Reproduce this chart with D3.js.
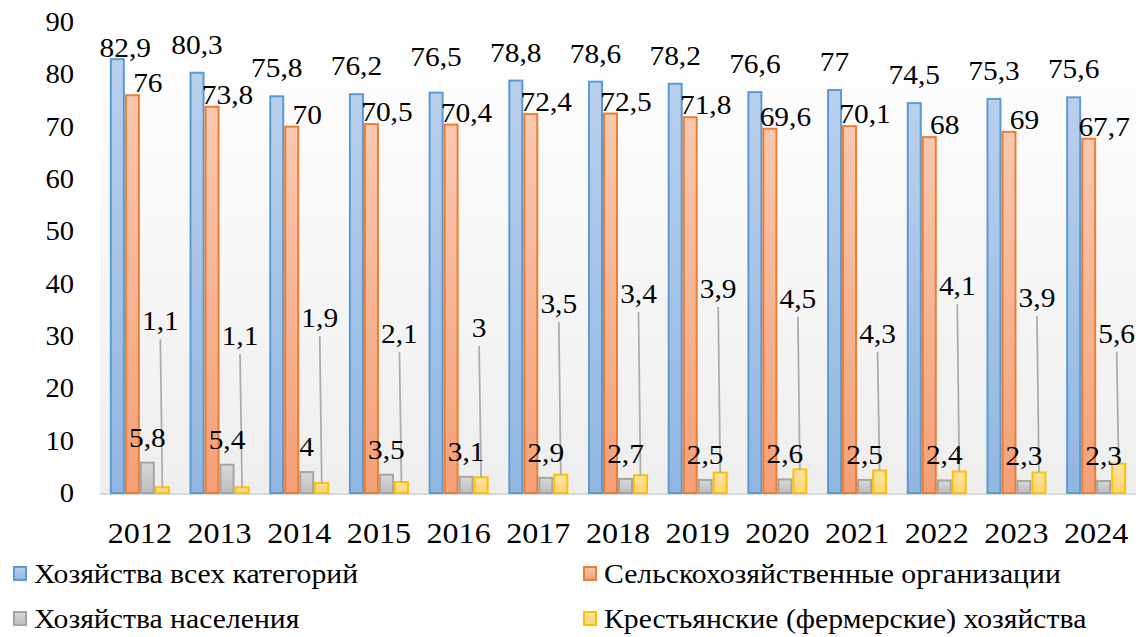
<!DOCTYPE html>
<html>
<head>
<meta charset="utf-8">
<script src="https://cdn.jsdelivr.net/npm/d3@7"></script>
<style>
  html, body { margin: 0; padding: 0; background: #fff; }
  #chart { width: 1142px; height: 637px; }
</style>
</head>
<body>
<div id="chart"></div>
<script>
// years on the x axis
const years = ["2012","2013","2014","2015","2016","2017","2018","2019","2020","2021","2022","2023","2024"];

// series values
const allFarms     = [82.9, 80.3, 75.8, 76.2, 76.5, 78.8, 78.6, 78.2, 76.6, 77, 74.5, 75.3, 75.6];
const agriOrgs     = [76, 73.8, 70, 70.5, 70.4, 72.4, 72.5, 71.8, 69.6, 70.1, 68, 69, 67.7];
const households   = [5.8, 5.4, 4, 3.5, 3.1, 2.9, 2.7, 2.5, 2.6, 2.5, 2.4, 2.3, 2.3];
const peasantFarms = [1.1, 1.1, 1.9, 2.1, 3, 3.5, 3.4, 3.9, 4.5, 4.3, 4.1, 3.9, 5.6];

// where the yellow series labels sit (value units, they were dragged up with leader lines)
const peasantLabelAt = [31.1, 28.3, 31.7, 28.7, 29.8, 34.4, 36.3, 37.3, 35.4, 28.7, 37.8, 35.5, 28.7];

const yTicks = [0, 10, 20, 30, 40, 50, 60, 70, 80, 90];

const seriesNames = [
  "Хозяйства всех категорий",
  "Сельскохозяйственные организации",
  "Хозяйства населения",
  "Крестьянские (фермерские) хозяйства"
];

(() => {
  const W = 1142, H = 637;
  const FONT = '"Liberation Serif", "Times New Roman", serif';
  const plot = { left: 100, right: 1136, top: 22, bottom: 493 };
  const fmt = v => String(v).replace(".", ",");

  // the source picture is a bit stretched sideways, so widen glyphs to match
  const stretch = (sel, k) => sel.each(function () {
    const w = this.getComputedTextLength();
    if (w > 0) d3.select(this).attr("textLength", w * k).attr("lengthAdjust", "spacingAndGlyphs");
  });

  const series = [
    { key: "a", name: seriesNames[0], values: allFarms,     stroke: "#5b9bd5", top: "#b9d0ec", bot: "#92b6e1" },
    { key: "b", name: seriesNames[1], values: agriOrgs,     stroke: "#ed7d31", top: "#f8c8b0", bot: "#f4a077" },
    { key: "c", name: seriesNames[2], values: households,   stroke: "#a5a5a5", top: "#d9d9d9", bot: "#bdbdbd" },
    { key: "d", name: seriesNames[3], values: peasantFarms, stroke: "#ffc000", top: "#ffe3a3", bot: "#ffd677" }
  ];

  const svg = d3.select("#chart").append("svg")
    .attr("width", W).attr("height", H)
    .attr("viewBox", `0 0 ${W} ${H}`)
    .style("font-family", FONT);

  const defs = svg.append("defs");
  series.forEach(s => {
    const g = defs.append("linearGradient").attr("id", "grad-" + s.key)
      .attr("x1", 0).attr("y1", 0).attr("x2", 0).attr("y2", 1);
    g.append("stop").attr("offset", "0%").attr("stop-color", s.top);
    g.append("stop").attr("offset", "100%").attr("stop-color", s.bot);
  });
  const bg = defs.append("linearGradient").attr("id", "plot-bg")
    .attr("x1", 0).attr("y1", 0).attr("x2", 0).attr("y2", 1);
  bg.append("stop").attr("offset", "0%").attr("stop-color", "#ffffff");
  bg.append("stop").attr("offset", "100%").attr("stop-color", "#eeeeee");

  // plot area background
  svg.append("rect")
    .attr("x", plot.left).attr("y", plot.top)
    .attr("width", plot.right - plot.left).attr("height", plot.bottom - plot.top)
    .attr("fill", "url(#plot-bg)");

  const x0 = d3.scaleBand().domain(years).range([plot.left, plot.right]).paddingInner(0).paddingOuter(0);
  const groupW = 60;
  const x1 = d3.scaleBand().domain(series.map(s => s.key)).range([0, groupW]);
  const y = d3.scaleLinear().domain([0, 90]).range([plot.bottom, plot.top]);
  const gx = yr => x0(yr) + (x0.bandwidth() - groupW) / 2;
  const cx = yr => x0(yr) + x0.bandwidth() / 2;

  // y axis labels only
  const yAxis = svg.append("g")
    .attr("transform", "translate(74,0)")
    .call(d3.axisLeft(y).tickValues(yTicks).tickSize(0).tickPadding(0));
  yAxis.attr("font-family", null).attr("font-size", null);
  yAxis.select(".domain").remove();
  yAxis.selectAll("text")
    .style("font-family", FONT)
    .style("font-size", "27px").attr("fill", "#000");
  stretch(yAxis.selectAll("text"), 1.06);

  // baseline
  svg.append("line")
    .attr("x1", plot.left).attr("x2", plot.right)
    .attr("y1", plot.bottom + 1).attr("y2", plot.bottom + 1)
    .attr("stroke", "#d9d9d9").attr("stroke-width", 2);

  // x axis labels
  const xAxis = svg.append("g")
    .attr("transform", `translate(0,${plot.bottom})`)
    .call(d3.axisBottom(x0).tickSize(0).tickPadding(0));
  xAxis.attr("font-family", null).attr("font-size", null);
  xAxis.select(".domain").remove();
  xAxis.selectAll("text")
    .attr("dy", null).attr("y", 50)
    .style("font-family", FONT)
    .style("font-size", "30px").attr("fill", "#000");
  stretch(xAxis.selectAll("text"), 1.07);

  // bars
  const bw = x1.bandwidth();
  series.forEach(s => {
    svg.append("g").selectAll("rect")
      .data(years.map((yr, i) => ({ yr, v: s.values[i] })))
      .join("rect")
      .attr("x", d => gx(d.yr) + x1(s.key) + 1)
      .attr("width", bw - 2)
      .attr("y", d => y(d.v))
      .attr("height", d => y(0) - y(d.v))
      .attr("fill", `url(#grad-${s.key})`)
      .attr("stroke", s.stroke)
      .attr("stroke-width", 2);
  });

  const leaders = svg.append("g");
  const lab = svg.append("g");
  const addLabel = (x, yy, t) => lab.append("text")
    .attr("x", x).attr("y", yy)
    .attr("text-anchor", "middle")
    .style("font-family", FONT)
    .style("font-size", "28px")
    .attr("fill", "#000")
    .text(t);

  // blue labels: centered on the bar, a few moved by hand in the original
  const blueDx = { "2012": 8 };
  const blueDy = { "2012": -2, "2016": -27 };
  years.forEach((yr, i) => {
    const v = allFarms[i];
    addLabel(gx(yr) + x1("a") + bw / 2 + (blueDx[yr] || 0),
      y(v) + (blueDy[yr] != null ? blueDy[yr] : -19), fmt(v));
  });

  // orange labels
  years.forEach((yr, i) => {
    const v = agriOrgs[i];
    addLabel(cx(yr) + 8, y(v) - 3, fmt(v));
  });

  // gray labels
  years.forEach((yr, i) => {
    const v = households[i];
    addLabel(gx(yr) + x1("c") + bw / 2, y(v) - 16, fmt(v));
  });

  // yellow labels with leader lines
  years.forEach((yr, i) => {
    const v = peasantFarms[i];
    const bx = gx(yr) + x1("d") + bw / 2;
    const lx = bx - 2;
    const ly = y(peasantLabelAt[i]);
    leaders.append("line")
      .attr("x1", lx).attr("y1", ly + 9)
      .attr("x2", bx).attr("y2", y(v))
      .attr("stroke", "#ababab").attr("stroke-width", 1.75);
    addLabel(lx, ly, fmt(v));
  });
  stretch(lab.selectAll("text"), 1.05);

  // legend
  const legendPos = [
    { x: 13, y: 583 }, { x: 583, y: 583 },
    { x: 13, y: 628 }, { x: 583, y: 628 }
  ];
  const legend = svg.append("g");
  series.forEach((s, i) => {
    const p = legendPos[i];
    legend.append("rect")
      .attr("x", p.x + 1).attr("y", p.y - 16)
      .attr("width", 12).attr("height", 13)
      .attr("fill", `url(#grad-${s.key})`)
      .attr("stroke", s.stroke).attr("stroke-width", 2);
    legend.append("text")
      .attr("x", p.x + 21).attr("y", p.y)
      .style("font-family", FONT)
      .style("font-size", "27px")
      .attr("fill", "#000")
      .text(s.name);
  });
  stretch(legend.selectAll("text"), 1.1);
})();
</script>
</body>
</html>
